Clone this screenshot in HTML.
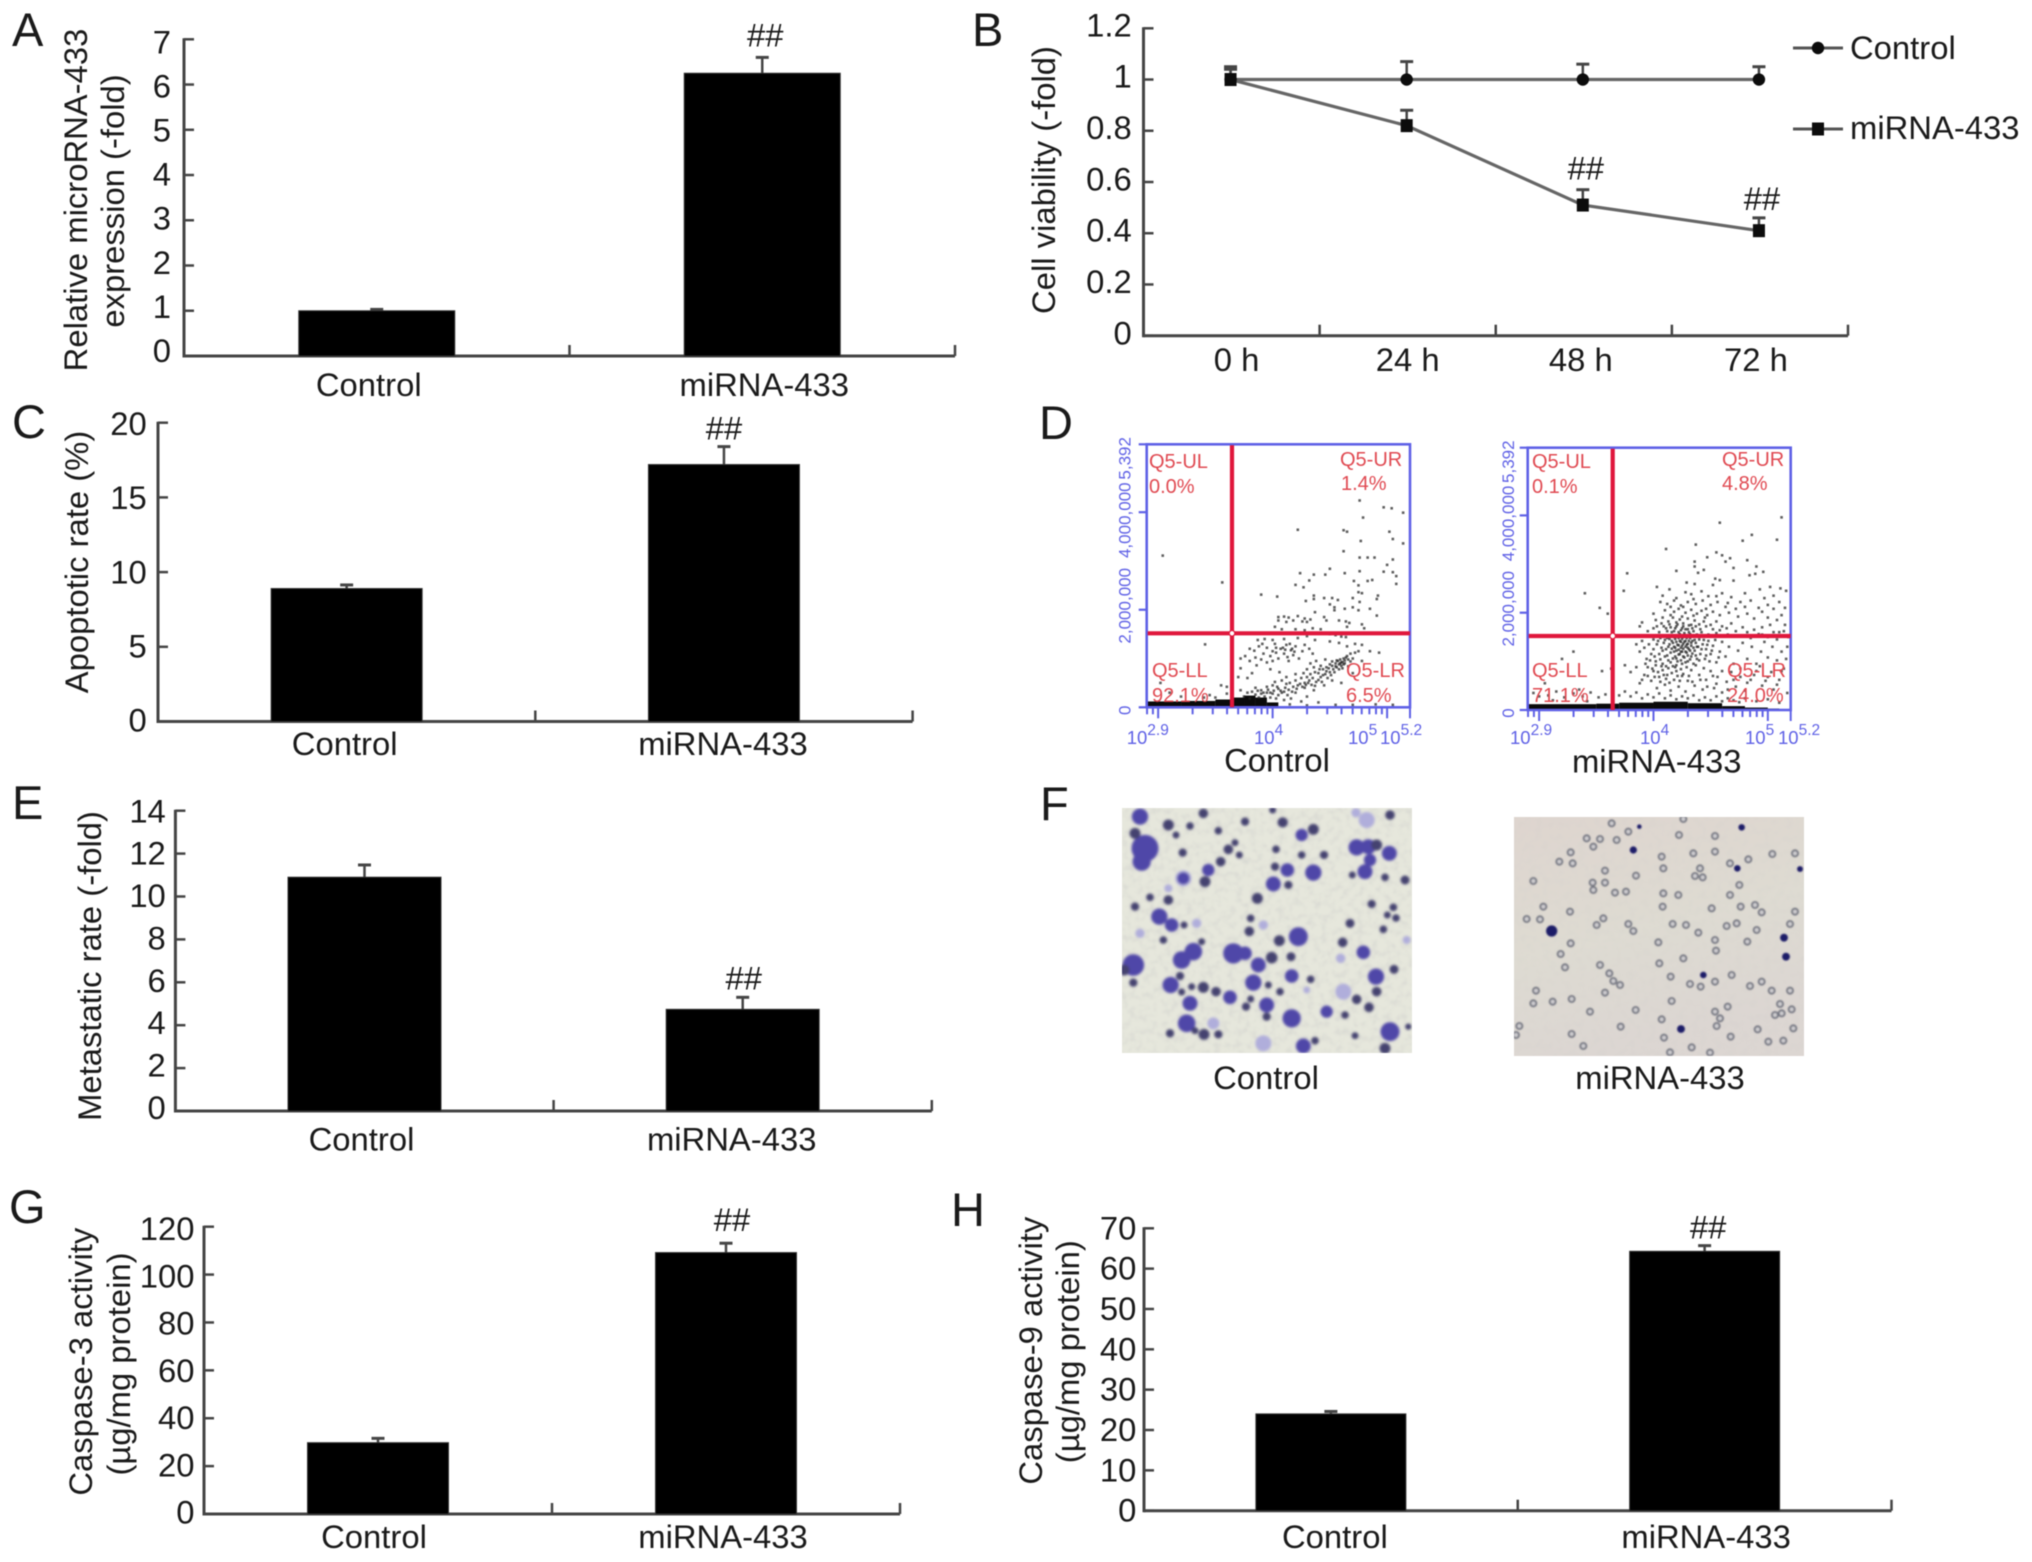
<!DOCTYPE html>
<html lang="en">
<head>
<meta charset="utf-8">
<title>miRNA-433 figure panels</title>
<style>
html,body{margin:0;padding:0;background:#fff;width:2032px;height:1562px;overflow:hidden}
svg{display:block;filter:blur(.65px)}
text{font-family:"Liberation Sans",sans-serif;fill:#1a1a1a}
</style>
</head>
<body>
<svg id="fig" xmlns="http://www.w3.org/2000/svg" width="2032" height="1562" viewBox="0 0 2032 1562">
  <defs>
    <filter id="photoBlur" x="-5%" y="-5%" width="110%" height="110%"><feGaussianBlur stdDeviation="1.3"/></filter>
    <filter id="ringBlur" x="-5%" y="-5%" width="110%" height="110%"><feGaussianBlur stdDeviation="0.7"/></filter>
    <filter id="speckle" x="0" y="0" width="100%" height="100%">
      <feTurbulence type="fractalNoise" baseFrequency="0.14" numOctaves="2" seed="7"/>
      <feColorMatrix type="matrix" values="0 0 0 0 .55  0 0 0 0 .55  0 0 0 0 .55  0 0 0 1.4 -.62"/>
      <feGaussianBlur stdDeviation="0.9"/>
    </filter>
    <clipPath id="photoClipC"><rect x="1122" y="808" width="290" height="245"/></clipPath>
    <clipPath id="photoClipM"><rect x="1514" y="817" width="290" height="239"/></clipPath>
    <linearGradient id="photoBgM" x1="0" y1="0" x2="0.3" y2="1">
      <stop offset="0" stop-color="#ded5cf"/><stop offset=".55" stop-color="#dedbd2"/><stop offset="1" stop-color="#dcd6d2"/>
    </linearGradient>
  </defs>
</svg>
<script>
/* ---------- Panel A ---------- */
const panelACategories = ['Control', 'miRNA-433'];
const panelAValues = [1, 6.25];
const panelAErrors = [0.03, 0.35];
const panelATicks = [0, 1, 2, 3, 4, 5, 6, 7];
/* ---------- Panel C ---------- */
const panelCCategories = ['Control', 'miRNA-433'];
const panelCValues = [8.9, 17.2];
const panelCErrors = [0.24, 1.2];
const panelCTicks = [0, 5, 10, 15, 20];
/* ---------- Panel E ---------- */
const panelECategories = ['Control', 'miRNA-433'];
const panelEValues = [10.9, 4.74];
const panelEErrors = [0.57, 0.56];
const panelETicks = [0, 2, 4, 6, 8, 10, 12, 14];
/* ---------- Panel G ---------- */
const panelGCategories = ['Control', 'miRNA-433'];
const panelGValues = [29.8, 109.2];
const panelGErrors = [1.8, 3.9];
const panelGTicks = [0, 20, 40, 60, 80, 100, 120];
/* ---------- Panel H ---------- */
const panelHCategories = ['Control', 'miRNA-433'];
const panelHValues = [24, 64.3];
const panelHErrors = [0.6, 1.4];
const panelHTicks = [0, 10, 20, 30, 40, 50, 60, 70];
/* ---------- Panel B ---------- */
const panelBCategories = ['0 h', '24 h', '48 h', '72 h'];
const panelBControl = [1, 1, 1, 1];
const panelBControlErrors = [0.05, 0.07, 0.06, 0.05];
const panelBMirna = [1, 0.82, 0.51, 0.41];
const panelBMirnaErrors = [0.04, 0.06, 0.06, 0.05];
const panelBTicks = [0, 0.2, 0.4, 0.6, 0.8, 1, 1.2];
/* ---------- Panel D (flow cytometry) ---------- */
const flowYTicks = [0, 2000000, 4000000];
const flowXTicks = [800, 900, 1000, 2000, 3000, 4000, 5000, 6000, 7000, 8000, 9000, 10000, 20000, 30000, 40000, 50000, 60000, 70000, 80000, 90000, 100000, 158489];
const flowMajorXTicks = [1000, 10000, 100000, 158489];
/* events: [log10 fluorescence, signal in millions] */
const controlEvents = [[4.76,4.24],[4.97,4.10],[5.04,4.08],[5.14,3.99],[4.79,3.89],[4.22,3.64],[4.62,3.63],[4.65,3.6],[5.02,3.6],[4.77,3.41],[5.05,3.45],[5.14,3.36],[3.04,3.11],[4.62,3.2],[4.76,3.07],[4.83,3.07],[4.89,3.07],[5.05,3.03],[5.0,2.92],[4.5,2.84],[4.76,2.79],[4.97,2.78],[5.05,2.77],[4.24,2.75],[4.36,2.72],[4.46,2.72],[4.63,2.75],[5.08,2.69],[4.32,2.6],[4.71,2.59],[4.83,2.59],[4.87,2.61],[3.56,2.56],[5.08,2.53],[4.2,2.51],[4.27,2.46],[4.75,2.5],[4.75,2.36],[4.78,2.34],[3.9,2.31],[4.04,2.27],[4.36,2.29],[4.36,2.22],[4.45,2.24],[4.52,2.24],[4.57,2.2],[4.7,2.24],[4.92,2.29],[4.91,2.22],[4.29,2.18],[4.76,2.16],[4.5,2.11],[4.54,2.05],[4.63,2.02],[4.7,2.05],[4.75,1.99],[4.85,2.02],[4.37,1.95],[4.54,1.99],[4.91,1.88],
[4.05,1.85],[4.1,1.86],[4.14,1.84],[4.22,1.87],[4.28,1.82],[4.33,1.8],[4.45,1.85],[4.47,1.78],[4.05,1.78],[4.12,1.75],[4.18,1.78],[4.26,1.76],[4.3,1.75],[4.58,1.78],[4.64,1.76],[4.67,1.73],[4.65,1.65],[4.78,1.7],[4.8,1.62],[4.02,1.65],[4.08,1.6],[4.2,1.6],[4.28,1.58],[4.35,1.62],[4.42,1.6],[4.5,1.5],[4.55,1.48],[4.6,1.45],[4.64,1.44],[4.3,1.46],[4.22,1.42],[4.1,1.4],[4.0,1.38],[3.93,1.4],[3.87,1.38],[4.37,1.38],[4.5,1.35],[4.58,1.32],[4.65,1.25],[4.72,1.3],[4.78,1.28],
[3.8,1.2],[3.84,1.16],[3.88,1.25],[3.92,1.1],[3.95,1.22],[3.98,1.05],[4.0,1.15],[4.02,1.3],[4.05,1.0],[4.07,1.2],[4.1,1.1],[4.12,1.28],[4.14,.95],[4.16,1.17],[4.18,1.07],[4.2,1.25],[4.23,1.0],[4.26,1.15],[4.28,1.28],[4.32,1.2],[4.35,1.1],[3.72,1.0],[3.76,1.05],[3.8,.95],[3.85,1.02],[3.9,.98],[3.95,.92],[4.0,.95],[4.03,1.12],[4.09,1.22],[4.13,1.03],[4.17,1.2],
[3.65,.75],[3.7,.62],[3.72,.8],[3.78,.6],[3.82,.7],[3.85,.4],[3.9,.35],[3.95,.42],[3.98,.3],[4.0,.45],[4.02,.52],[4.05,.38],[4.08,.55],[4.1,.32],[4.12,.48],[4.15,.5],[4.18,.42],[4.2,.55],[4.22,.45],[4.25,.6],[4.28,.5],[4.3,.62],[4.32,.55],[4.33,.68],[4.35,.6],[4.37,.72],[4.38,.52],[4.4,.7],[4.42,.62],[4.44,.78],[4.46,.68],[4.47,.82],[4.5,.72],[4.5,.88],[4.52,.85],[4.53,.78],[4.55,.9],[4.56,.82],[4.57,.95],[4.58,.88],[4.59,.9],[4.6,.85],[4.61,.93],[4.62,1.0],[4.63,.9],[4.65,1.05],[4.66,.98],[4.68,1.1],[4.7,1.0],[4.72,1.12],[4.75,1.15],[4.33,.9],[4.38,.95],[4.42,.85],[4.46,.98],[4.3,.78],[4.28,.4],[4.36,.35],[4.45,.45],[4.52,.55],[4.6,.5],[4.7,.7],[4.78,.95],[4.85,1.15],[4.93,1.12],
[3.75,.22],[3.8,.18],[3.85,.26],[3.88,.2],[3.9,.28],[3.93,.22],[3.95,.3],[3.98,.2],[4.0,.28],[4.03,.18],[4.05,.25],[4.08,.3],[4.1,.15],[4.13,.25],[4.16,.18],[4.2,.3],[4.25,.12],[4.3,.22],[4.4,.1],[4.55,.05],[4.7,.05],[4.9,.06],[5.05,.05],[4.3,.04],[4.15,.06],[3.41,1.29],[3.55,.45],[3.6,.42],[3.5,.2],[3.4,.2],[3.45,.25],[3.6,.28],[3.65,.2],[3.02,.5],[3.1,.3],[3.2,.22],[3.72,.35],[3.78,.3],
[3.82,.32],[3.87,.34],[3.92,.3],[3.96,.36],[4.01,.34],[4.04,.42],[4.07,.34],[4.11,.4],[4.14,.36],[4.17,.32],[4.21,.38],[4.24,.48],[4.26,.42],[4.29,.46],[4.31,.5],[4.34,.46],[4.37,.44],[4.4,.56],[4.43,.52],[4.48,.6],[4.49,.8],[4.51,.66],[4.52,.94],[4.54,.72],[4.55,.84],[4.56,.96],[4.58,.78],[4.59,.98],[4.6,.92],[4.61,.8],[4.62,.88],[4.63,.96],[4.64,1.02],[4.66,.84],[4.68,.94],[4.41,.78],[4.44,.66],[4.47,.74],[4.36,.82],[4.27,.7],[4.2,.68],[4.12,.62],[4.06,.72],[3.98,.78],[3.86,.86],[3.91,1.3],[4.03,1.22],[4.11,1.18],[4.15,1.3],[4.19,1.14]];
const mirnaEvents = [[4.58,3.85],[5.12,3.96],[4.86,3.6],[5.08,3.5],[4.78,3.48],[4.11,3.31],[4.37,3.4],[4.55,3.24],[4.6,3.18],[4.67,3.12],[4.47,3.14],[4.82,3.08],[4.36,3.05],[4.63,3.05],[4.36,2.95],[4.7,2.92],[4.9,2.95],[4.96,2.84],[4.2,2.86],[4.39,2.82],[4.44,2.88],[4.84,2.77],[3.77,2.81],[4.89,2.8],[4.54,2.7],[4.58,2.67],[4.7,2.66],[4.03,2.53],[4.29,2.62],[4.36,2.59],[4.52,2.57],[4.93,2.48],[5.02,2.53],[5.11,2.5],[5.16,2.45],[3.74,2.45],[3.4,2.4],[4.14,2.48],
[4.08,2.35],[4.2,2.3],[4.28,2.42],[4.33,2.38],[4.42,2.44],[4.48,2.34],[4.6,2.4],[4.68,2.32],[4.76,2.22],[4.85,2.25],[4.97,2.3],[5.05,2.35],[5.1,2.22],[5.15,2.1],[4.06,2.22],[4.12,2.18],[4.18,2.25],[4.24,2.15],[4.3,2.22],[4.37,2.18],[4.43,2.25],[4.5,2.16],[4.56,2.22],[4.63,2.12],[4.72,2.08],[4.8,2.12],[4.92,2.1],[5.0,2.16],[3.53,2.1],[3.6,1.98],[3.9,1.8],[3.88,1.72],[4.0,1.98],[4.1,2.05],[4.18,2.02],[4.22,2.08],[4.28,2.0],[4.33,2.06],[4.38,1.98],[4.42,2.04],[4.47,1.95],[4.52,2.02],[4.58,1.95],[4.66,2.0],[4.74,1.92],[4.82,1.98],[4.88,1.88],[5.0,1.9],[5.08,1.85],[5.15,1.75],
[4.02,1.85],[4.08,1.9],[4.13,1.82],[4.17,1.9],[4.2,1.8],[4.23,1.86],[4.26,1.78],[4.3,1.88],[4.33,1.75],[4.36,1.84],[4.4,1.76],[4.44,1.82],[4.5,1.75],[4.55,1.82],[4.6,1.72],[4.68,1.78],[4.78,1.7],[4.88,1.65],[4.95,1.7],[5.05,1.6],[5.14,1.62],[3.95,1.62],[4.0,1.68],[4.05,1.6],[4.09,1.72],[4.12,1.62],[4.15,1.7],[4.18,1.62],[4.2,1.72],[4.22,1.6],[4.25,1.68],[4.27,1.58],[4.3,1.66],[4.32,1.56],[4.35,1.62],[4.38,1.55],[4.42,1.6],[4.48,1.55],[4.55,1.58],[4.65,1.55],[4.75,1.52],[4.85,1.48],[4.92,1.56],[5.0,1.5],[5.08,1.45],[5.18,1.5],
[3.85,1.35],[3.88,1.2],[3.9,1.42],[3.92,1.28],[3.94,1.05],[3.96,1.35],[3.98,1.15],[4.0,1.45],[4.0,1.25],[4.02,1.0],[4.03,1.35],[4.05,1.15],[4.06,1.48],[4.07,1.28],[4.08,.95],[4.09,1.38],[4.1,1.1],[4.11,1.25],[4.12,1.48],[4.13,1.02],[4.14,1.35],[4.15,1.18],[4.16,1.42],[4.17,.9],[4.18,1.3],[4.18,1.5],[4.19,1.1],[4.2,1.4],[4.2,1.22],[4.21,1.0],[4.22,1.33],[4.22,1.48],[4.23,1.15],[4.24,1.28],[4.24,1.4],[4.25,.95],[4.25,1.2],[4.26,1.36],[4.26,1.5],[4.27,1.08],[4.28,1.3],[4.28,1.42],[4.29,1.18],[4.3,1.0],[4.3,1.36],[4.31,1.25],[4.32,1.48],[4.33,1.1],[4.33,1.32],[4.34,1.42],[4.35,.95],[4.36,1.22],[4.37,1.38],[4.38,1.05],[4.39,1.3],[4.4,1.45],[4.41,1.15],[4.43,1.35],[4.45,1.05],[4.46,1.25],[4.48,1.42],[4.5,1.15],[4.52,1.32],[4.55,.98],[4.58,1.2],[4.6,1.4],[4.63,1.1],[4.66,1.3],[4.7,.95],[4.74,1.22],[4.78,1.38],[4.82,1.05],[4.86,1.3],[4.9,.95],[4.94,1.2],[4.97,1.4],[5.0,1.08],[5.04,1.3],[5.08,1.02],[5.12,1.2],[5.16,1.05],
[3.75,.92],[3.8,.78],[3.85,.88],[3.88,.55],[3.92,.72],[3.95,.88],[3.98,.6],[4.0,.8],[4.03,.45],[4.05,.68],[4.08,.82],[4.1,.52],[4.12,.72],[4.15,.4],[4.18,.62],[4.2,.8],[4.22,.48],[4.25,.7],[4.28,.38],[4.3,.6],[4.33,.82],[4.36,.5],[4.4,.72],[4.43,.42],[4.46,.62],[4.5,.8],[4.53,.45],[4.56,.68],[4.6,.36],[4.64,.58],[4.68,.78],[4.72,.48],[4.76,.68],[4.8,.4],[4.85,.62],[4.9,.8],[4.95,.5],[5.0,.68],[5.05,.42],[5.1,.62],[5.14,.85],[5.17,.35],
[3.7,.3],[3.75,.38],[3.8,.28],[3.85,.36],[3.9,.24],[3.95,.32],[4.0,.26],[4.05,.34],[4.1,.24],[4.15,.3],[4.2,.22],[4.25,.28],[4.3,.24],[4.35,.3],[4.4,.2],[4.45,.26],[4.5,.2],[4.55,.28],[4.6,.18],[4.65,.24],[4.7,.2],[4.75,.16],[4.8,.24],[4.9,.18],[5.0,.22],[5.1,.15],
[3.3,1.2],[3.2,1.05],[3.55,.8],[3.63,.85],[3.05,.55],[2.95,.35],[3.0,.28],[3.08,.3],[3.15,.38],[3.22,.26],[3.3,.34],[3.38,.28],[3.45,.36],[3.52,.26],[3.58,.32],[3.64,.24],[3.35,.42],[3.42,.18],[3.12,.2],
[4.01,1.1],[4.04,1.42],[4.06,1.04],[4.08,1.22],[4.1,1.44],[4.11,.9],[4.12,1.12],[4.13,1.3],[4.14,1.46],[4.15,.98],[4.16,1.26],[4.17,1.06],[4.17,1.38],[4.18,1.2],[4.19,1.46],[4.19,1.28],[4.2,.92],[4.2,1.06],[4.21,1.34],[4.21,1.52],[4.22,1.14],[4.22,1.24],[4.23,1.42],[4.23,1.56],[4.24,1.02],[4.24,1.2],[4.25,1.32],[4.25,1.46],[4.26,1.1],[4.26,1.26],[4.27,1.4],[4.27,1.54],[4.28,.98],[4.28,1.2],[4.29,1.34],[4.29,1.48],[4.3,1.12],[4.3,1.28],[4.31,1.42],[4.31,1.6],[4.32,1.04],[4.32,1.22],[4.33,1.38],[4.33,1.52],[4.34,1.16],[4.35,1.28],[4.36,1.44],[4.37,1.12],[4.38,1.3],[4.39,1.52],[4.4,1.02],[4.42,1.25],[4.44,1.44],[4.46,1.12],[4.47,1.34],[4.49,1.0],[4.51,1.22],[4.54,1.44],[4.57,1.08],
[3.9,.62],[3.93,.95],[3.95,.7],[3.97,1.02],[3.99,.85],[4.01,.68],[4.02,.92],[4.04,.78],[4.06,.58],[4.07,.9],[4.09,.72],[4.11,.64],[4.13,.86],[4.14,.56],[4.16,.76],[4.19,.88],[4.21,.7],[4.23,.6],[4.24,.84],[4.26,.74],[4.29,.88],[4.31,.7],[4.34,.58],[4.37,.92],[4.41,.62],[4.44,.86],[4.47,.48],[4.52,.7],[4.55,.54],[4.6,.8],[4.65,.42],[4.7,.62],[4.76,.85],[4.82,.56],[4.88,.72],[4.93,.9],[4.98,.6],[5.03,.78],[5.08,.52],[5.12,.8],
[4.03,1.72],[4.07,1.78],[4.11,1.68],[4.14,1.76],[4.16,1.6],[4.19,1.68],[4.21,1.76],[4.24,1.64],[4.26,1.72],[4.28,1.66],[4.31,1.74],[4.34,1.68],[4.37,1.72],[4.41,1.66],[4.46,1.72],[4.52,1.66],[4.58,1.64],[4.64,1.68],[4.72,1.62],[4.82,1.6],[4.15,1.95],[4.25,1.92],[4.35,1.94],[4.45,1.9],[4.15,2.12],[4.26,2.12],[4.35,2.28],[4.46,2.08],[4.55,2.34],[4.65,2.2],[4.8,2.4],[4.95,2.02],[5.05,2.08],[5.12,1.95],[5.1,1.6],[5.17,1.3],[4.95,1.55],[5.02,1.75]];
/* dense event band along the baseline: bin edges (log10) and height (millions) */
const controlBandBins = [2.9, 3.2, 3.5, 3.65, 3.75, 3.85, 3.95];
const controlBandHeights = [0.12, 0.13, 0.16, 0.2, 0.24, 0.2, 0.1];
const mirnaBandBins = [2.9, 3.2, 3.5, 3.7, 4.0, 4.3, 4.6, 4.8, 5.0];
const mirnaBandHeights = [0.12, 0.12, 0.13, 0.15, 0.17, 0.14, 0.08, 0.05, 0.03];
/* ---------- Panel F (micrographs): [crop-x, crop-y, radius] ---------- */
const ctrlStainBlobs = [[120,80,22],[135,175,38],[125,215,25],[105,130,14],[205,105,14],[270,108,9],[228,135,8],[310,70,12],[355,122,9],[435,95,10],[518,60,8],[548,97,13],[605,135,16],[640,118,14],[248,188,10],[385,178,12],[362,215,12],[405,158,8],[418,195,8],[325,240,16],[315,275,14],[250,265,16],[528,178,9],[525,230,10],[562,240,18],[520,282,20],[565,285,10],[605,195,9],[672,195,10],[640,248,22],[770,172,22],[805,170,20],[830,165,14],[810,210,16],[868,190,20],[870,75,12],[795,245,20],[757,255,8],[855,262,9],[915,270,11],[205,330,12],[150,322,9],[105,350,10],[472,325,14],[178,380,22],[215,405,18],[252,405,8],[190,450,9],[452,385,9],[448,424,12],[750,400,11],[815,342,10],[880,352,9],[862,375,8],[888,384,9],[850,418,9],[595,440,26],[538,452,14],[728,457,12],[305,455,8],[280,485,24],[245,510,24],[400,490,28],[435,490,18],[790,487,18],[475,525,20],[515,503,15],[573,500,11],[100,525,30],[72,540,14],[575,558,18],[460,578,22],[632,568,9],[240,558,10],[212,585,22],[100,578,10],[828,560,22],[882,538,11],[505,585,8],[310,592,14],[348,605,12],[275,590,8],[245,606,8],[830,605,12],[390,622,18],[270,640,20],[452,627,8],[438,650,10],[500,645,20],[540,605,9],[770,628,12],[807,652,12],[680,665,16],[735,675,9],[500,680,10],[575,685,25],[260,700,24],[285,722,8],[312,733,14],[355,733,10],[210,730,10],[870,725,26],[925,710,7],[765,737,8],[610,768,20],[645,752,9],[855,775,14]];
const ctrlFaintBlobs = [[768,68,14],[800,90,24],[290,400,14],[490,405,14],[722,505,14],[620,600,10],[730,605,24],[490,760,24],[250,265,24],[205,295,12],[120,430,14],[340,700,18],[920,450,12]];
const mirnaRingCells = [[335,70],[550,57],[260,115],[300,117],[385,95],[350,120],[280,140],[212,157],[178,185],[218,190],[100,243],[315,212],[408,227],[278,248],[315,248],[280,270],[345,278],[378,275],[490,205],[485,170],[537,105],[645,108],[580,160],[645,155],[690,190],[745,178],[817,162],[885,160],[600,205],[585,228],[608,232],[718,255],[490,280],[535,285],[690,285],[765,315],[722,320],[785,337],[885,335],[635,325],[488,320],[210,335],[130,320],[80,357],[120,358],[310,355],[290,375],[385,372],[400,393],[518,372],[558,375],[595,398],[710,370],[680,378],[770,390],[870,372],[212,430],[475,427],[645,420],[648,452],[742,425],[550,475],[182,462],[478,490],[195,502],[300,495],[328,520],[340,543],[360,555],[695,525],[512,530],[645,545],[602,560],[570,552],[750,558],[785,545],[815,572],[870,572],[108,572],[100,610],[158,605],[215,597],[315,578],[515,603],[683,620],[645,635],[660,655],[840,612],[825,645],[845,640],[875,628],[270,635],[407,630],[485,658],[650,678],[58,678],[48,705],[362,680],[215,702],[492,713],[773,688],[692,710],[805,725],[850,722],[880,685],[250,738],[575,742],[510,757],[630,758]];
const mirnaDarkCells = [[725,82,8],[418,80,5],[400,150,9],[712,205,8],[900,207,7],[155,393,15],[852,413,10],[858,470,10],[610,525,8],[543,687,10]];

const svg = document.getElementById('fig');
const NS = 'http://www.w3.org/2000/svg';
function make(tag, attrs, parent) {
  const el = document.createElementNS(NS, tag);
  for (const k in attrs) el.setAttribute(k, attrs[k]);
  (parent || svg).appendChild(el);
  return el;
}
function label(parent, x, y, str, size, anchor, rot) {
  const el = make('text', {x: x, y: y, 'font-size': size, 'text-anchor': anchor || 'start'}, parent);
  if (rot) el.setAttribute('transform', 'rotate(-90 ' + x + ' ' + y + ')');
  el.textContent = str;
  return el;
}
const TXT = 32.8, AXIS = '#454545';

function panelLetter(str, x, y) {
  const el = label(svg, x, y, str, 47);
  
  
}

function drawAxes(g, cfg, ticks, tickLabels, bandCount, yScale) {
  const yAxis = make('line', {x1: cfg.left, x2: cfg.left, y1: cfg.yTop - 1, y2: cfg.yZero + 1.5, stroke: AXIS, 'stroke-width': 3}, g);
  
  
  const xAxis = make('line', {x1: cfg.left, x2: cfg.right, y1: cfg.yZero, y2: cfg.yZero, stroke: AXIS, 'stroke-width': 3}, g);
  
  
  ticks.forEach(function (t, i) {
    const y = yScale(t);
    const tick = make('line', {x1: cfg.left, x2: cfg.left + 10, y1: y, y2: y, stroke: AXIS, 'stroke-width': 2.5}, g);
    
    
    const f = (y - cfg.yZero) / (cfg.yTop - cfg.yZero);
    const dy = cfg.dyBottom + (cfg.dyTop - cfg.dyBottom) * f;
    const lab = label(g, cfg.labelRight, y + dy, tickLabels[i], TXT, 'end');
    
    
  });
  const band = (cfg.right - cfg.left) / bandCount;
  for (let i = 1; i <= bandCount; i++) {
    const x = cfg.left + band * i;
    const tick = make('line', {x1: x, x2: x, y1: cfg.yZero, y2: cfg.yZero - 11, stroke: AXIS, 'stroke-width': 2.5}, g);
    
    
  }
  cfg.title.forEach(function (t) {
    const el = label(g, t.x, t.y, t.text, TXT, 'middle', true);
    
    
  });
}

function errorBar(g, x, yFrom, yTo, capW) {
  const stem = make('line', {x1: x, x2: x, y1: yFrom, y2: yTo, stroke: AXIS, 'stroke-width': 2.5}, g);
  
  
  const cap = make('line', {x1: x - capW / 2, x2: x + capW / 2, y1: yTo, y2: yTo, stroke: AXIS, 'stroke-width': 3}, g);
  
  
}

function barPanel(cfg, categories, values, errors, ticks) {
  const g = make('g', {});
  
  
  const yScale = function (v) { return cfg.yZero - (v / cfg.max) * (cfg.yZero - cfg.yTop); };
  drawAxes(g, cfg, ticks, ticks.map(String), categories.length, yScale);
  const band = (cfg.right - cfg.left) / categories.length;
  categories.forEach(function (c, i) {
    const cx = cfg.left + band * (i + 0.5);
    errorBar(g, cx, yScale(values[i]), yScale(values[i] + errors[i]), 13);
    const bar = make('rect', {x: cx - cfg.barW / 2, y: yScale(values[i]), width: cfg.barW, height: cfg.yZero - yScale(values[i]), fill: '#000', stroke: '#333', 'stroke-width': 1}, g);
    
    
    const cat = label(g, cx + cfg.catDx[i], cfg.catY, c, TXT, 'middle');
    
    
  });
  const sig = label(g, cfg.left + band * 1.5 + cfg.hashDx, yScale(values[1] + errors[1]) + cfg.hashDy, '##', TXT, 'middle');
  
  
}

barPanel({id: 'a', left: 184, right: 955, yZero: 356, yTop: 39.3, max: 7, barW: 156, labelRight: 171, dyTop: 14, dyBottom: 6,
  catDx: [-8, 2], catY: 396, hashDx: 3, hashDy: -11,
  title: [{x: 87, y: 200, text: 'Relative microRNA-433'}, {x: 124, y: 201, text: 'expression (-fold)'}]},
  panelACategories, panelAValues, panelAErrors, panelATicks);

barPanel({id: 'c', left: 158, right: 912.6, yZero: 721.5, yTop: 422.7, max: 20, barW: 151, labelRight: 146.7, dyTop: 12.3, dyBottom: 10,
  catDx: [-2, -1], catY: 755, hashDx: 0, hashDy: -7,
  title: [{x: 88, y: 562, text: 'Apoptotic rate (%)'}]},
  panelCCategories, panelCValues, panelCErrors, panelCTicks);

barPanel({id: 'e', left: 175.4, right: 931.8, yZero: 1111, yTop: 810.7, max: 14, barW: 153, labelRight: 165.8, dyTop: 11.6, dyBottom: 8,
  catDx: [-3, -11], catY: 1150.7, hashDx: 1, hashDy: -8,
  title: [{x: 101, y: 966, text: 'Metastatic rate (-fold)'}]},
  panelECategories, panelEValues, panelEErrors, panelETicks);

barPanel({id: 'g', left: 204, right: 900, yZero: 1514, yTop: 1226.7, max: 120, barW: 141, labelRight: 194.5, dyTop: 13.3, dyBottom: 9.6,
  catDx: [-4, -3], catY: 1548, hashDx: 6, hashDy: -12,
  title: [{x: 92, y: 1361.7, text: 'Caspase-3 activity'}, {x: 130, y: 1364, text: '(\u00B5g/mg protein)'}]},
  panelGCategories, panelGValues, panelGErrors, panelGTicks);

barPanel({id: 'h', left: 1144, right: 1891.5, yZero: 1510.7, yTop: 1228.3, max: 70, barW: 150, labelRight: 1136.4, dyTop: 11, dyBottom: 11,
  catDx: [4, 1.5], catY: 1548, hashDx: 3.5, hashDy: -7,
  title: [{x: 1042, y: 1350.7, text: 'Caspase-9 activity'}, {x: 1079, y: 1351.7, text: '(\u00B5g/mg protein)'}]},
  panelHCategories, panelHValues, panelHErrors, panelHTicks);

/* ---------- Panel B line chart ---------- */
(function () {
  const cfg = {left: 1143.5, right: 1848, yZero: 335.7, yTop: 28.3, max: 1.2, labelRight: 1131.7, dyTop: 8, dyBottom: 8.6,
    title: [{x: 1055, y: 180, text: 'Cell viability (-fold)'}]};
  const g = make('g', {});
  
  
  const yScale = function (v) { return cfg.yZero - (v / cfg.max) * (cfg.yZero - cfg.yTop); };
  drawAxes(g, cfg, panelBTicks, panelBTicks.map(String), panelBCategories.length, yScale);
  const band = (cfg.right - cfg.left) / panelBCategories.length;
  const xScale = function (i) { return cfg.left + band * (i + 0.5) - 1; };
  const catDx = [6, 1, -2, -3];
  panelBCategories.forEach(function (c, i) {
    const cat = label(g, xScale(i) + catDx[i], 371, c, TXT, 'middle');
    
    
  });
  panelBControl.forEach(function (v, i) { errorBar(g, xScale(i), yScale(v), yScale(v + panelBControlErrors[i]), 13); });
  panelBMirna.forEach(function (v, i) { errorBar(g, xScale(i), yScale(v), yScale(v + panelBMirnaErrors[i]), 13); });
  const ctrlLine = make('polyline', {fill: 'none', stroke: '#666', 'stroke-width': 3.2, points: panelBControl.map(function (v, i) { return xScale(i) + ',' + yScale(v); }).join(' ')}, g);
  
  
  const mirLine = make('polyline', {fill: 'none', stroke: '#666', 'stroke-width': 3.2, points: panelBMirna.map(function (v, i) { return xScale(i) + ',' + yScale(v); }).join(' ')}, g);
  
  
  panelBControl.forEach(function (v, i) {
    const dot = make('circle', {cx: xScale(i), cy: yScale(v), r: 6.2, fill: '#0c0c0c'}, g);
    
    
  });
  panelBMirna.forEach(function (v, i) {
    const sq = make('rect', {x: xScale(i) - 6, y: yScale(v) - 6.5, width: 12, height: 13, fill: '#0c0c0c'}, g);
    
    
  });
  const sigDy = {2: -10, 3: -8};
  [2, 3].forEach(function (i) {
    const sig = label(g, xScale(i) + 3, yScale(panelBMirna[i] + panelBMirnaErrors[i]) + sigDy[i], '##', TXT, 'middle');
    
    
  });
  /* legend */
  const leg = make('g', {}, g);
  
  
  const l1 = make('line', {x1: 1793, x2: 1843, y1: 48, y2: 48, stroke: '#555', 'stroke-width': 3}, leg);
  
  
  const m1 = make('circle', {cx: 1818, cy: 48, r: 6.2, fill: '#0c0c0c'}, leg);
  
  
  const t1 = label(leg, 1850, 59, 'Control', TXT);
  
  
  const l2 = make('line', {x1: 1793, x2: 1843, y1: 129, y2: 129, stroke: '#555', 'stroke-width': 3}, leg);
  
  
  const m2 = make('rect', {x: 1812, y: 122.5, width: 12, height: 13, fill: '#0c0c0c'}, leg);
  
  
  const t2 = label(leg, 1850, 139, 'miRNA-433', TXT);
  
  
})();

/* ---------- Panel D flow plots ---------- */
function flowPlot(cfg, events, bandBins, bandHeights) {
  const BLUE = '#5f61e6', RED = '#e0173c', REDTXT = '#e04a52';
  const g = make('g', {});
  
  
  const xs = function (lg) { return cfg.l + (lg - 2.9) / 2.3 * (cfg.r - cfg.l); };
  const ys = function (m) { return cfg.b - m / 5.392 * (cfg.b - cfg.t); };
  bandBins.forEach(function (bin, i) {
    const next = i + 1 < bandBins.length ? bandBins[i + 1] : bin + 0.1;
    const band = make('rect', {x: xs(bin), y: ys(bandHeights[i]), width: xs(next) - xs(bin), height: cfg.b - ys(bandHeights[i]), fill: '#0a0a0a'}, g);
    
    
  });
  events.forEach(function (e) {
    const dot = make('rect', {x: xs(e[0]) - 1.3, y: ys(e[1]) - 1.3, width: 2.6, height: 2.6, fill: '#222', 'fill-opacity': 0.72}, g);
    
    
  });
  const frame = make('rect', {x: cfg.l, y: cfg.t, width: cfg.r - cfg.l, height: cfg.b - cfg.t, fill: 'none', stroke: BLUE, 'stroke-width': 2.6}, g);
  
  
  flowYTicks.forEach(function (v) {
    const t = make('line', {x1: cfg.l - 8, x2: cfg.l, y1: ys(v / 1e6), y2: ys(v / 1e6), stroke: BLUE, 'stroke-width': 2.2}, g);
    
    
  });
  const top = make('line', {x1: cfg.l - 8, x2: cfg.l, y1: cfg.t, y2: cfg.t, stroke: BLUE, 'stroke-width': 2.2}, g);
  
  
  flowXTicks.forEach(function (v) {
    const x = xs(Math.log10(v));
    const len = flowMajorXTicks.indexOf(v) >= 0 ? 11 : 7;
    const t = make('line', {x1: x, x2: x, y1: cfg.b, y2: cfg.b + len, stroke: BLUE, 'stroke-width': 2}, g);
    
    
  });
  const yLabels = [['0', cfg.b + 3], ['2,000,000', ys(2) - 4], ['4,000,000', ys(4) + 8], ['5,392', cfg.t + 14]];
  yLabels.forEach(function (l) {
    const el = label(g, cfg.yLabelX, l[1], l[0], 17, 'middle', true);
    el.style.fill = BLUE;
    
    
  });
  const xLabels = [['2.9', cfg.xl[0]], ['4', cfg.xl[1]], ['5', cfg.xl[2]], ['5.2', cfg.xl[3]]];
  xLabels.forEach(function (l) {
    const el = label(g, cfg.l + l[1], 744, '10', 18.5);
    el.style.fill = BLUE;
    
    
    const sup = make('tspan', {'font-size': 15.5, dy: -9}, el);
    sup.textContent = l[0];
  });
  const hl = make('line', {x1: cfg.l + 1, x2: cfg.r, y1: cfg.hy, y2: cfg.hy, stroke: RED, 'stroke-width': 4.2}, g);
  
  
  const vl = make('line', {x1: cfg.vx, x2: cfg.vx, y1: cfg.t + 1, y2: cfg.b, stroke: RED, 'stroke-width': 4.2}, g);
  
  
  const hub = make('circle', {cx: cfg.vx, cy: cfg.hy, r: 2.8, fill: '#fff', stroke: RED, 'stroke-width': 1.2}, g);
  
  
  cfg.q.forEach(function (q) {
    const el = label(g, q[0], q[1], q[2], 20);
    el.style.fill = REDTXT;
    
    
  });
  const cap = label(g, cfg.capX, cfg.capY, cfg.caption, TXT, 'middle');
  
  
}
flowPlot({id: 'control', l: 1146.7, r: 1410, t: 444.3, b: 707.3, vx: 1232, hy: 633.3, yLabelX: 1130.7,
  xl: [-20, 107.3, 201.3, 233.3], capX: 1277, capY: 771.7, caption: 'Control',
  q: [[1149, 468, 'Q5-UL'], [1149, 493, '0.0%'], [1340, 466, 'Q5-UR'], [1341, 490, '1.4%'], [1152, 677, 'Q5-LL'], [1152, 702, '92.1%'], [1346, 677, 'Q5-LR'], [1346, 702, '6.5%']]},
  controlEvents, controlBandBins, controlBandHeights);
flowPlot({id: 'mirna-433', l: 1527.7, r: 1790.7, t: 447.7, b: 710, vx: 1612.7, hy: 636, yLabelX: 1514,
  xl: [-17.7, 112.3, 217.3, 250.3], capX: 1656.7, capY: 772.6, caption: 'miRNA-433',
  q: [[1532, 468, 'Q5-UL'], [1532, 493, '0.1%'], [1722, 466, 'Q5-UR'], [1722, 490, '4.8%'], [1532, 677, 'Q5-LL'], [1532, 702, '71.1%'], [1727, 677, 'Q5-LR'], [1727, 702, '24.0%']]},
  mirnaEvents, mirnaBandBins, mirnaBandHeights);

/* ---------- Panel F micrographs ---------- */
(function () {
  const gc = make('g', {'clip-path': 'url(#photoClipC)'});
  
  
  const bgc = make('rect', {x: 1122, y: 808, width: 290, height: 245, fill: '#e6e7dc'}, gc);
  
  
  const spc = make('rect', {x: 1122, y: 808, width: 290, height: 245, filter: 'url(#speckle)', opacity: 0.55}, gc);
  
  
  const cellsC = make('g', {filter: 'url(#photoBlur)'}, gc);
  
  
  const cx = function (z) { return 1100 + z / 3; };
  const cy = function (z) { return 790 + z / 3; };
  ctrlFaintBlobs.forEach(function (b) {
    const c = make('circle', {cx: cx(b[0]), cy: cy(b[1]), r: b[2] / 3, fill: '#b0aedb'}, cellsC);
    
    
  });
  ctrlStainBlobs.forEach(function (b) {
    const c = make('circle', {cx: cx(b[0]), cy: cy(b[1]), r: b[2] / 3 + 0.8, fill: b[2] >= 16 ? '#5046a8' : '#45426f'}, cellsC);
    
    
  });
  const capC = label(svg, 1266, 1089, 'Control', TXT, 'middle');
  
  

  const gm = make('g', {'clip-path': 'url(#photoClipM)'});
  
  
  const bgm = make('rect', {x: 1514, y: 817, width: 290, height: 239, fill: 'url(#photoBgM)'}, gm);
  
  
  const spm = make('rect', {x: 1514, y: 817, width: 290, height: 239, filter: 'url(#speckle)', opacity: 0.2}, gm);
  
  
  const cellsM = make('g', {filter: 'url(#ringBlur)'}, gm);
  
  
  const mx = function (z) { return 1500 + z / 3; };
  const my = function (z) { return 800 + z / 3; };
  mirnaRingCells.forEach(function (b) {
    const c = make('circle', {cx: mx(b[0]), cy: my(b[1]), r: 3, fill: '#cfcdd0', stroke: '#70727e', 'stroke-width': 1.8}, cellsM);
    
    
  });
  mirnaDarkCells.forEach(function (b) {
    const c = make('circle', {cx: mx(b[0]), cy: my(b[1]), r: b[2] / 3 + 0.6, fill: '#1c1a68'}, cellsM);
    
    
  });
  const capM = label(svg, 1660, 1089, 'miRNA-433', TXT, 'middle');
  
  
})();

panelLetter('A', 12, 46);
panelLetter('B', 972, 46);
panelLetter('C', 12, 438);
panelLetter('D', 1039, 439);
panelLetter('E', 12, 819);
panelLetter('F', 1040, 820);
panelLetter('G', 9, 1223);
panelLetter('H', 951, 1226);
</script>
</body>
</html>
